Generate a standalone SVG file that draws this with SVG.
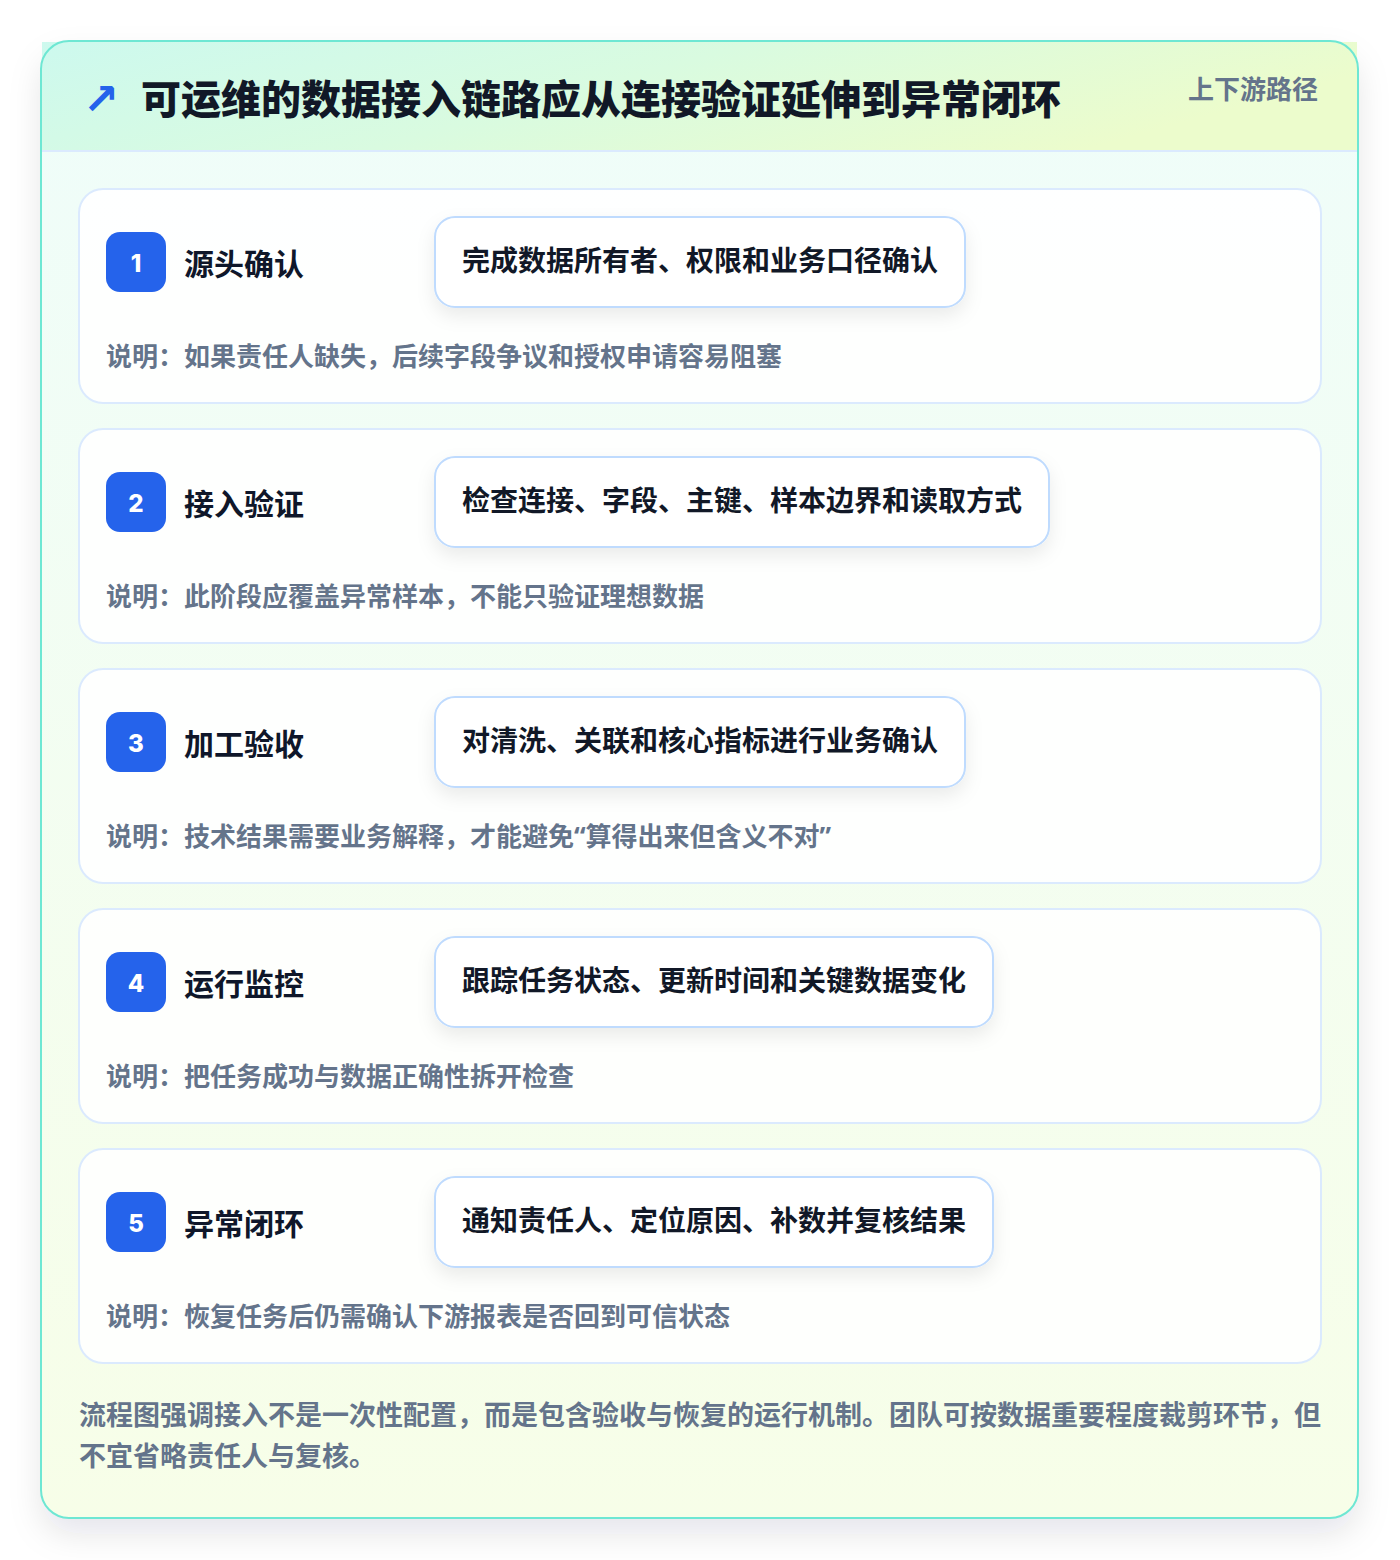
<svg xmlns="http://www.w3.org/2000/svg" width="1400" height="1560" viewBox="0 0 1400 1560">
  <defs>
    <linearGradient id="bodyGrad" x1="0" y1="0" x2="0" y2="1">
      <stop offset="0" stop-color="#effdfa"/>
      <stop offset="1" stop-color="#f7fee8"/>
    </linearGradient>
    <linearGradient id="headGrad" x1="0" y1="0" x2="1" y2="0.3">
      <stop offset="0" stop-color="#cdf9ee"/>
      <stop offset="0.5" stop-color="#d9fbe0"/>
      <stop offset="1" stop-color="#ecfccc"/>
    </linearGradient>
    <filter id="outerShadow" x="-10%" y="-10%" width="120%" height="120%">
      <feDropShadow dx="0" dy="16" stdDeviation="16" flood-color="#0f172a" flood-opacity="0.10"/>
    </filter>
    <filter id="pillShadow" x="-10%" y="-30%" width="120%" height="170%">
      <feDropShadow dx="0" dy="8" stdDeviation="9" flood-color="#0f172a" flood-opacity="0.08"/>
    </filter>
  </defs>
  <style>
    .cjk { font-family: "Noto Sans CJK SC", "Noto Sans", sans-serif; }
    .latin { font-family: "Noto Sans", "Liberation Sans", sans-serif; }
    .title { font-size: 40px; font-weight: 800; fill: #111827; }
    .tag { font-size: 26px; font-weight: 700; fill: #64748b; }
    .card { fill: #ffffff; fill-opacity: 0.88; stroke: #dbeafe; stroke-width: 2; }
    .badge { fill: #2563eb; }
    .num { font-family: "Inter", "Liberation Sans", sans-serif; font-size: 24px; font-weight: 800; fill: #ffffff; text-anchor: middle; }
    .label { font-size: 30px; font-weight: 700; fill: #0f172a; }
    .pill { fill: #ffffff; stroke: #bfdbfe; stroke-width: 2; }
    .pilltext { font-size: 28px; font-weight: 700; fill: #111827; }
    .desc { font-size: 26px; font-weight: 700; fill: #64748b; }
    .foot { font-size: 27px; font-weight: 700; fill: #64748b; }
  </style>

  <rect x="0" y="0" width="1400" height="1560" fill="#ffffff"/>

  <g id="container">
    <rect x="41" y="41" width="1317" height="1477" rx="28" fill="url(#bodyGrad)" filter="url(#outerShadow)"/>
    <rect x="42" y="42" width="1315" height="109" fill="url(#headGrad)"/>
    <line x1="42" y1="151" x2="1357" y2="151" stroke="#dbeafe" stroke-width="2"/>
    <rect x="41" y="41" width="1317" height="1477" rx="28" fill="none" stroke="#6ee7d3" stroke-width="2"/>
  </g>

  <g id="header">
    <text x="83" y="114" font-family="DejaVu Sans, sans-serif" font-size="43" font-weight="700" fill="#2563eb">↗</text>
    <text class="cjk title" x="141" y="114">可运维的数据接入链路应从连接验证延伸到异常闭环</text>
    <text class="cjk tag" x="1188" y="99">上下游路径</text>
  </g>

  <g id="connectors"></g>

  <g id="step1">
    <rect class="card" x="79" y="189" width="1242" height="214" rx="24"/>
    <rect class="badge" x="106" y="232" width="60" height="60" rx="14"/>
    <text class="num" x="136" y="272">1</text>
    <text class="cjk label" x="184" y="275">源头确认</text>
    <rect class="pill" x="435" y="217" width="530" height="90" rx="20" filter="url(#pillShadow)"/>
    <text class="cjk pilltext" x="462" y="271">完成数据所有者、权限和业务口径确认</text>
    <text class="cjk desc" x="106" y="366">说明：如果责任人缺失，后续字段争议和授权申请容易阻塞</text>
  </g>

  <g id="step2">
    <rect class="card" x="79" y="429" width="1242" height="214" rx="24"/>
    <rect class="badge" x="106" y="472" width="60" height="60" rx="14"/>
    <text class="num" x="136" y="512">2</text>
    <text class="cjk label" x="184" y="515">接入验证</text>
    <rect class="pill" x="435" y="457" width="614" height="90" rx="20" filter="url(#pillShadow)"/>
    <text class="cjk pilltext" x="462" y="511">检查连接、字段、主键、样本边界和读取方式</text>
    <text class="cjk desc" x="106" y="606">说明：此阶段应覆盖异常样本，不能只验证理想数据</text>
  </g>

  <g id="step3">
    <rect class="card" x="79" y="669" width="1242" height="214" rx="24"/>
    <rect class="badge" x="106" y="712" width="60" height="60" rx="14"/>
    <text class="num" x="136" y="752">3</text>
    <text class="cjk label" x="184" y="755">加工验收</text>
    <rect class="pill" x="435" y="697" width="530" height="90" rx="20" filter="url(#pillShadow)"/>
    <text class="cjk pilltext" x="462" y="751">对清洗、关联和核心指标进行业务确认</text>
    <text class="cjk desc" x="106" y="846">说明：技术结果需要业务解释，才能避免<tspan class="latin">“</tspan>算得出来但含义不对<tspan class="latin">”</tspan></text>
  </g>

  <g id="step4">
    <rect class="card" x="79" y="909" width="1242" height="214" rx="24"/>
    <rect class="badge" x="106" y="952" width="60" height="60" rx="14"/>
    <text class="num" x="136" y="992">4</text>
    <text class="cjk label" x="184" y="995">运行监控</text>
    <rect class="pill" x="435" y="937" width="558" height="90" rx="20" filter="url(#pillShadow)"/>
    <text class="cjk pilltext" x="462" y="991">跟踪任务状态、更新时间和关键数据变化</text>
    <text class="cjk desc" x="106" y="1086">说明：把任务成功与数据正确性拆开检查</text>
  </g>

  <g id="step5">
    <rect class="card" x="79" y="1149" width="1242" height="214" rx="24"/>
    <rect class="badge" x="106" y="1192" width="60" height="60" rx="14"/>
    <text class="num" x="136" y="1232">5</text>
    <text class="cjk label" x="184" y="1235">异常闭环</text>
    <rect class="pill" x="435" y="1177" width="558" height="90" rx="20" filter="url(#pillShadow)"/>
    <text class="cjk pilltext" x="462" y="1231">通知责任人、定位原因、补数并复核结果</text>
    <text class="cjk desc" x="106" y="1326">说明：恢复任务后仍需确认下游报表是否回到可信状态</text>
  </g>

  <g id="footer">
    <text class="cjk foot" x="79" y="1425">流程图强调接入不是一次性配置，而是包含验收与恢复的运行机制。团队可按数据重要程度裁剪环节，但</text>
    <text class="cjk foot" x="79" y="1466">不宜省略责任人与复核。</text>
  </g>
</svg>
